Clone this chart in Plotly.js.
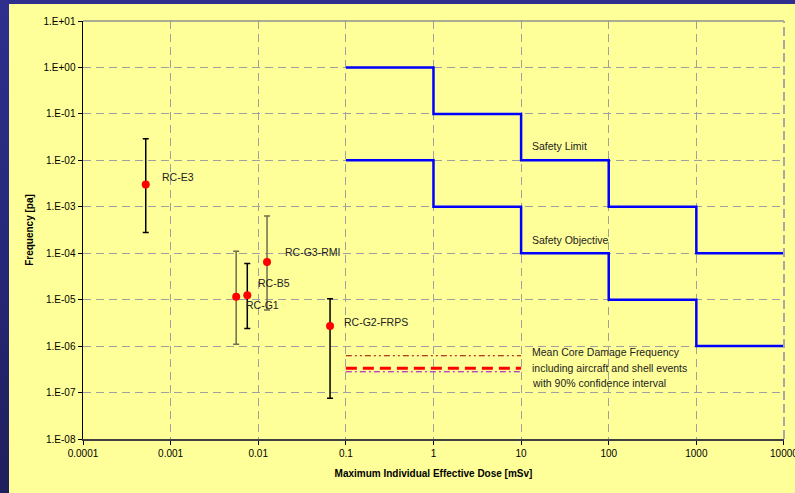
<!DOCTYPE html>
<html>
<head>
<meta charset="utf-8">
<script src="https://cdn.plot.ly/plotly-3.0.1.min.js"></script>
<style>
  html, body { margin: 0; padding: 0; width: 795px; height: 493px; overflow: hidden;
    background: linear-gradient(to bottom, #2f2f8e 0%, #27277a 50%, #1f1f5c 100%); }
  #chart { position: absolute; left: 9px; top: 4px; width: 786px; height: 489px; }
</style>
</head>
<body>
<div id="chart"></div>
<script>
// ---- Data ----
const caseNames   = ["RC-E3", "RC-G1", "RC-B5", "RC-G3-RMI", "RC-G2-FRPS"];
const caseDose    = [5.2e-4, 5.6e-3, 7.5e-3, 1.26e-2, 0.066];
const caseFreq    = [3.0e-3, 1.15e-5, 1.25e-5, 6.5e-5, 2.7e-6];
const caseFreqHi  = [2.9e-2, 1.1e-4, 6.0e-5, 6.3e-4, 1.05e-5];
const caseFreqLo  = [2.8e-4, 1.1e-6, 2.4e-6, 6.0e-6, 7.5e-8];

const stepDose        = [0.1, 1, 10, 100, 1000, 10000];
const safetyLimit     = [1, 0.1, 0.01, 1e-3, 1e-4, 1e-4];
const safetyObjective = [1e-2, 1e-3, 1e-4, 1e-5, 1e-6, 1e-6];

const cdfDose  = [0.1, 10];
const cdfUpper = [6.2e-7, 6.2e-7];
const cdfMean  = [3.35e-7, 3.35e-7];
const cdfLower = [2.8e-7, 2.8e-7];
const cdfText  = ["Mean Core Damage Frequency", "including aircraft and shell events", "with 90% confidence interval"];

const xTickVals = [1e-4, 1e-3, 1e-2, 0.1, 1, 10, 100, 1000, 10000];
const xTickText = ["0.0001", "0.001", "0.01", "0.1", "1", "10", "100", "1000", "10000"];
const yTickVals = [1e1, 1e0, 1e-1, 1e-2, 1e-3, 1e-4, 1e-5, 1e-6, 1e-7, 1e-8];
const yTickText = ["1.E+01", "1.E+00", "1.E-01", "1.E-02", "1.E-03", "1.E-04", "1.E-05", "1.E-06", "1.E-07", "1.E-08"];

// ---- Styles ----
const FONT = "Liberation Sans, Arial, Helvetica, sans-serif";
const errColor = {"RC-E3": "#000000", "RC-G1": "#6e6e50", "RC-B5": "#000000", "RC-G3-RMI": "#6e6e50", "RC-G2-FRPS": "#000000"};
const labelShift = {"RC-E3": [14, 8], "RC-G1": [8, -8], "RC-B5": [9, 12], "RC-G3-RMI": [16, 10], "RC-G2-FRPS": [12, 4]};

const traces = [];
traces.push({x: stepDose, y: safetyLimit, mode: "lines", line: {shape: "hv", color: "#0000ff", width: 2.5}});
traces.push({x: stepDose, y: safetyObjective, mode: "lines", line: {shape: "hv", color: "#0000ff", width: 2.5}});
traces.push({x: cdfDose, y: cdfUpper, mode: "lines", line: {color: "#990000", width: 1, dash: "6px,3px,2px,3px,2px,3px"}});
traces.push({x: cdfDose, y: cdfLower, mode: "lines", line: {color: "#9900cc", width: 1, dash: "6px,3px,2px,3px"}});
traces.push({x: cdfDose, y: cdfMean, mode: "lines", line: {color: "#ff0000", width: 3, dash: "11px,6px"}});

const annotations = [];
caseNames.forEach((n, i) => {
  traces.push({
    x: [caseDose[i]], y: [caseFreq[i]], mode: "markers",
    marker: {color: "#ff0000", size: 8},
    error_y: {type: "data", symmetric: false,
      array: [caseFreqHi[i] - caseFreq[i]], arrayminus: [caseFreq[i] - caseFreqLo[i]],
      color: errColor[n], thickness: 1.5, width: 3}
  });
  annotations.push({x: Math.log10(caseDose[i]), y: Math.log10(caseFreq[i]), text: n, showarrow: false,
    xanchor: "left", yanchor: "middle", xshift: labelShift[n][0], yshift: labelShift[n][1],
    font: {family: FONT, size: 10.5, color: "#222"}});
});

annotations.push({x: 1, y: -2, text: "Safety Limit", showarrow: false, xanchor: "left", yanchor: "middle",
  xshift: 9, yshift: 14, font: {family: FONT, size: 10.5, color: "#222"}});
annotations.push({x: 1, y: -4, text: "Safety Objective", showarrow: false, xanchor: "left", yanchor: "middle",
  xshift: 9, yshift: 13, font: {family: FONT, size: 10.5, color: "#222"}});
cdfText.forEach((t, i) => {
  annotations.push({x: 1, y: Math.log10(cdfMean[0]), text: t,
    showarrow: false, xanchor: "left", yanchor: "middle", align: "left", xshift: 9, yshift: 16 - 15.5 * i,
    font: {family: FONT, size: 10.5, color: "#222"}});
});

const layout = {
  width: 786, height: 489,
  margin: {l: 74, r: 11, t: 17, b: 54},
  paper_bgcolor: "#ffff99", plot_bgcolor: "#ffff99",
  showlegend: false, hovermode: false,
  font: {family: FONT, size: 10, color: "#000"},
  xaxis: {
    type: "log", range: [-4, 4.0005], tickvals: xTickVals, ticktext: xTickText,
    ticklabeloverflow: "allow",
    showgrid: true, gridcolor: "#a0a0a0", gridwidth: 1, griddash: "8px,5px",
    showline: true, linecolor: "#404040", linewidth: 2,
    ticks: "outside", ticklen: 4, tickcolor: "#000", zeroline: false,
    tickfont: {family: FONT, size: 10, color: "#000"},
    title: {text: "<b>Maximum Individual Effective Dose [mSv]</b>", font: {family: FONT, size: 10, color: "#000"}, standoff: 12}
  },
  yaxis: {
    type: "log", range: [-8, 1], tickvals: yTickVals, ticktext: yTickText,
    showgrid: true, gridcolor: "#a0a0a0", gridwidth: 1, griddash: "8px,5px",
    showline: true, linecolor: "#000", linewidth: 1.5,
    ticks: "outside", ticklen: 4, tickcolor: "#000", zeroline: false,
    tickfont: {family: FONT, size: 10, color: "#000"},
    title: {text: "<b>Frequency [pa]</b>", font: {family: FONT, size: 10, color: "#000"}, standoff: 8}
  },
  shapes: [
    {type: "line", xref: "paper", yref: "paper", x0: 0, x1: 1, y0: 1, y1: 1, line: {color: "#909090", width: 1.5}},
    {type: "line", xref: "paper", yref: "paper", x0: 1, x1: 1, y0: 0, y1: 1, line: {color: "#a8a8a8", width: 2, dash: "9px,4px"}}
  ],
  annotations: annotations
};

Plotly.newPlot("chart", traces, layout, {staticPlot: true, displayModeBar: false});
</script>
</body>
</html>
